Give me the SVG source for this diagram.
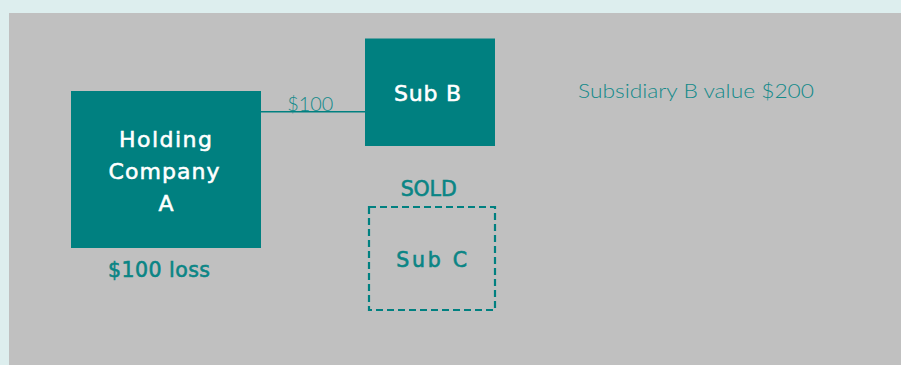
<svg xmlns="http://www.w3.org/2000/svg" width="901" height="365" viewBox="0 0 901 365">
  <style>
    .box { fill: #008080; }
    .sold { fill: none; stroke: #008080; stroke-width: 2.2; stroke-dasharray: 7 4; }
    .link { stroke: #008080; stroke-width: 1.6; fill: none; }
    .lbl-in { font-family: "DejaVu Sans", "Liberation Sans", sans-serif; font-size: 22px; fill: #ffffff; stroke: #ffffff; stroke-width: 0.55; text-anchor: middle; }
    .lbl-out { font-family: "DejaVu Sans", "Liberation Sans", sans-serif; font-size: 20.5px; fill: #0a8585; stroke: #0a8585; stroke-width: 0.6; text-anchor: middle; }
    .note { font-family: "Lato", "DejaVu Sans", sans-serif; font-weight: 300; font-size: 20.5px; fill: #138a8a; }
  </style>

  <!-- page and panel -->
  <rect x="0" y="0" width="901" height="365" fill="#ddeeee"/>
  <rect x="9" y="13" width="892" height="352" fill="#c0c0c0"/>

  <!-- ownership link -->
  <g id="connectors">
    <line class="link" x1="261" y1="111.7" x2="365" y2="111.7"/>
    <text class="note" x="287.3" y="110.7" textLength="46" lengthAdjust="spacingAndGlyphs">$100</text>
  </g>

  <g id="holding-a">
    <rect class="box" x="71" y="91" width="190" height="157"/>
    <text class="lbl-in" x="165.5" y="147.3" textLength="93" lengthAdjust="spacing">Holding</text>
    <text class="lbl-in" x="164" y="179.3" textLength="111" lengthAdjust="spacing">Company</text>
    <text class="lbl-in" x="166" y="211">A</text>
    <text class="lbl-out" x="159" y="276.7" textLength="102" lengthAdjust="spacing">$100 loss</text>
  </g>

  <g id="sub-b">
    <rect class="box" x="365" y="38.5" width="130" height="107.5"/>
    <text class="lbl-in" x="427.5" y="100.7" textLength="67" lengthAdjust="spacing">Sub B</text>
    <text class="note" x="578" y="98.3" textLength="236" lengthAdjust="spacingAndGlyphs">Subsidiary B value $200</text>
  </g>

  <g id="sub-c">
    <text class="lbl-out" x="428.7" y="196" font-size="19.5" textLength="56" lengthAdjust="spacing">SOLD</text>
    <rect class="sold" x="369" y="207" width="126" height="103"/>
    <text class="lbl-out" x="431.7" y="266.7" font-size="22" textLength="71" lengthAdjust="spacing">Sub C</text>
  </g>
</svg>
